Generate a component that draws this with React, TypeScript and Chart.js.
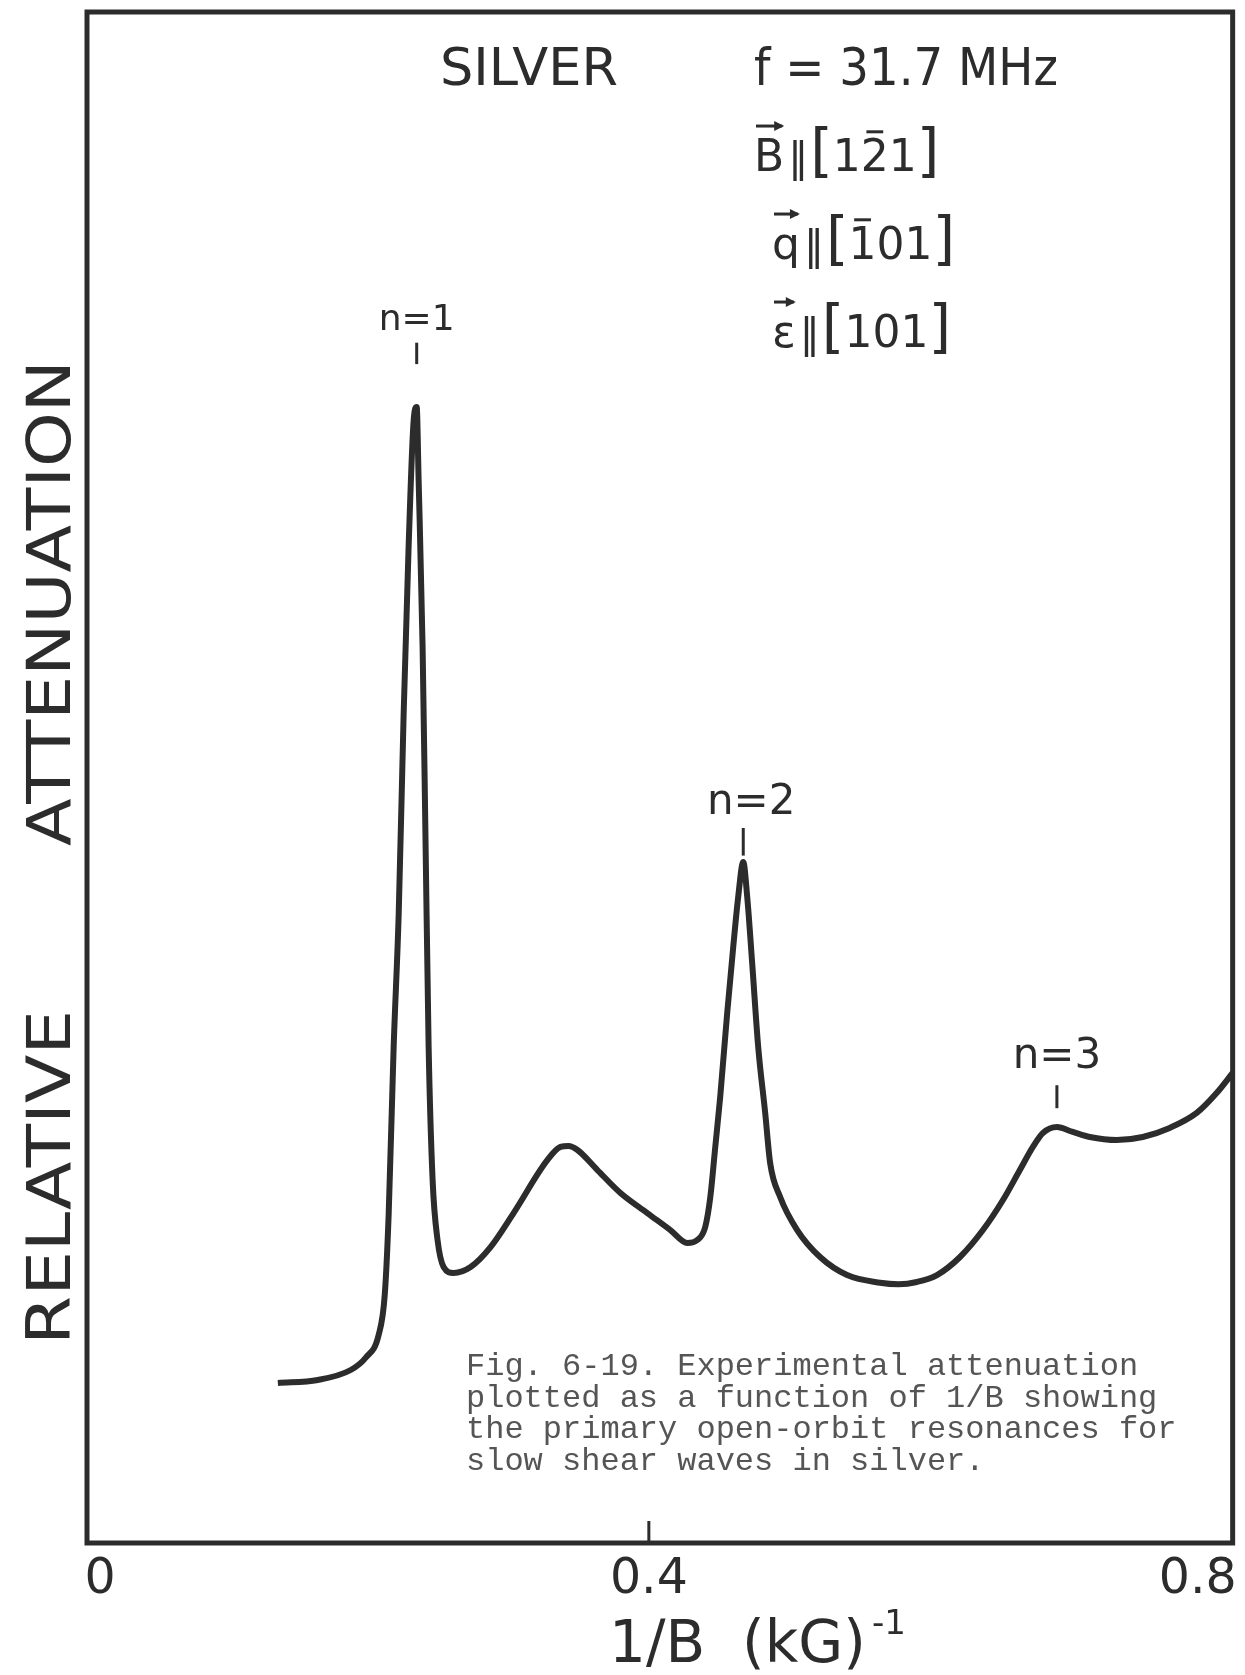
import React, { useEffect, useRef } from "react";
import { Chart, registerables } from "chart.js";

Chart.register(...registerables);

// ---- data ----
const INV_B = [
  0.1296, 0.1587, 0.1827, 0.1936, 0.2031, 0.2075, 0.2104, 0.214, 0.2177, 0.2213, 0.2249,
  0.2286, 0.2308, 0.2322, 0.2351, 0.2373, 0.2395, 0.2424, 0.246, 0.2504, 0.2577,
  0.2701, 0.2846, 0.3014, 0.3261, 0.3356, 0.3414, 0.348, 0.3625, 0.3793, 0.3989,
  0.4157, 0.428, 0.4353, 0.4411, 0.4448, 0.4484, 0.452, 0.4571, 0.4615, 0.4651,
  0.4688, 0.4717, 0.4753, 0.4797, 0.4848, 0.4884, 0.4957, 0.5081, 0.5248, 0.5445,
  0.5685, 0.582, 0.5954, 0.61, 0.6268, 0.6435, 0.6581, 0.6704, 0.6799, 0.6872, 0.6974,
  0.709, 0.7214, 0.741, 0.76, 0.7796, 0.7993, 0.8138, 0.8255,
];
const ATTENUATION = [
  10.45, 10.65, 11.3, 12.1, 13.6, 16.2, 21.55, 32.4, 41.15, 54.21, 65.06,
  73.35, 74.2, 69.43, 58.52, 45.46, 32.4, 23.71, 19.79, 18.03, 17.64,
  18.03, 19.33, 21.55, 25.02, 25.87, 25.93, 25.67, 24.36, 22.86, 21.55,
  20.44, 19.6, 19.79, 20.64, 22.6, 25.87, 29.13, 34.62, 38.93, 42.19,
  44.48, 42.19, 37.88, 32.4, 28.09, 24.82, 22.6, 20.44, 18.68, 17.5,
  17.0, 16.9, 17.05, 17.5, 18.68, 20.44, 22.4, 24.36, 25.87, 26.78, 27.17,
  26.85, 26.52, 26.32, 26.52, 27.11, 28.09, 29.39, 30.7,
];
const X_TICKS = [0, 0.4, 0.8];
const X_TICK_LABELS = ["0", "0.4", "0.8"];
const X_MIN = -0.0095;
const X_MAX = 0.8255;
const Y_MIN = 0;
const Y_MAX = 100;

const PEAK_LABELS = ["n=1", "n=2", "n=3"];
const PEAK_X = [0.2308, 0.4688, 0.6974];
const PEAK_LABEL_Y = [79.2, 47.6, 31.0];
const PEAK_MARK_TOP = [78.4, 46.7, 29.9];
const PEAK_MARK_BOTTOM = [77.0, 44.9, 28.4];

const SAMPLE = "SILVER";
const FREQ = "f = 31.7 MHz";
const Y_TITLE_1 = "RELATIVE";
const Y_TITLE_2 = "ATTENUATION";
const X_TITLE = "1/B  (kG)";
const X_TITLE_SUP = "-1";
const CAPTION = [
  "Fig. 6-19. Experimental attenuation",
  "plotted as a function of 1/B showing",
  "the primary open-orbit resonances for",
  "slow shear waves in silver.",
];

type Seg = { t: string; size?: number; bar?: boolean; arrow?: boolean; gap?: number; dy?: number };

const INK = "#2c2c2c";
const SANS = '"DejaVu Sans"';

function fitText(ctx: CanvasRenderingContext2D, text: string, x: number, y: number, width: number, size: number, rot = 0) {
  ctx.save();
  ctx.font = `${size}px ${SANS}`;
  const w = ctx.measureText(text).width;
  ctx.translate(x, y);
  if (rot) ctx.rotate(rot);
  ctx.scale(width / w, 1);
  ctx.textAlign = "left";
  ctx.textBaseline = "alphabetic";
  ctx.fillText(text, 0, 0);
  ctx.restore();
}

function drawRich(ctx: CanvasRenderingContext2D, x: number, baseline: number, segs: Seg[], size: number) {
  let cx = x;
  ctx.save();
  ctx.textAlign = "left";
  ctx.textBaseline = "alphabetic";
  ctx.strokeStyle = INK;
  ctx.fillStyle = INK;
  for (const s of segs) {
    const fs = s.size ?? size;
    ctx.font = `${fs}px ${SANS}`;
    const w = ctx.measureText(s.t).width;
    const y = baseline + (s.dy ?? 0);
    ctx.fillText(s.t, cx, y);
    if (s.bar) {
      ctx.lineWidth = 3;
      ctx.beginPath();
      const by = y - fs * 0.8 - 4;
      ctx.moveTo(cx + w * 0.2, by);
      ctx.lineTo(cx + w * 0.8, by);
      ctx.stroke();
    }
    if (s.arrow) {
      ctx.lineWidth = 3;
      const ay = y - fs * 0.84 - 8;
      ctx.beginPath();
      ctx.moveTo(cx + 2, ay);
      ctx.lineTo(cx + w - 2, ay);
      ctx.stroke();
      ctx.beginPath();
      ctx.moveTo(cx + w, ay);
      ctx.lineTo(cx + w - 10, ay - 5);
      ctx.lineTo(cx + w - 10, ay + 5);
      ctx.closePath();
      ctx.fill();
    }
    cx += w + (s.gap ?? 0);
  }
  ctx.restore();
}

const framePlugin = {
  id: "frameAndText",
  afterDatasetsDraw(chart: any) {
    const { ctx, chartArea } = chart;
    const xs = chart.scales.x;
    const ys = chart.scales.y;
    ctx.save();
    // frame
    ctx.strokeStyle = INK;
    ctx.lineWidth = 5;
    ctx.strokeRect(chartArea.left, chartArea.top, chartArea.right - chartArea.left, chartArea.bottom - chartArea.top);
    // inward tick marks (interior ticks only)
    ctx.lineWidth = 3;
    xs.ticks.forEach((t: any, i: number) => {
      if (i === 0 || i === xs.ticks.length - 1) return;
      const px = xs.getPixelForValue(t.value);
      ctx.beginPath();
      ctx.moveTo(px, chartArea.bottom);
      ctx.lineTo(px, chartArea.bottom - 22);
      ctx.stroke();
    });
    // peak labels and marks
    ctx.fillStyle = INK;
    ctx.textAlign = "center";
    ctx.textBaseline = "alphabetic";
    PEAK_LABELS.forEach((lab, i) => {
      const px = xs.getPixelForValue(PEAK_X[i]);
      const size = i === 0 ? 36 : 42;
      ctx.font = `${size}px ${SANS}`;
      ctx.fillText(lab, px + (i === 1 ? 8 : 0), ys.getPixelForValue(PEAK_LABEL_Y[i]));
      ctx.lineWidth = 3;
      ctx.beginPath();
      ctx.moveTo(px, ys.getPixelForValue(PEAK_MARK_TOP[i]));
      ctx.lineTo(px, ys.getPixelForValue(PEAK_MARK_BOTTOM[i]));
      ctx.stroke();
    });

    // header text
    fitText(ctx, SAMPLE, 440, 85, 178, 51);
    fitText(ctx, FREQ, 754, 85, 304, 51);
    drawRich(ctx, 754, 171, [
      { t: "B", arrow: true, gap: 4 },
      { t: "\u2016", size: 40, gap: 2 },
      { t: "[", size: 58 },
      { t: "1" },
      { t: "2", bar: true },
      { t: "1" },
      { t: "]", size: 58 },
    ], 44);
    drawRich(ctx, 772, 259, [
      { t: "q", arrow: true, gap: 4 },
      { t: "\u2016", size: 40, gap: 2 },
      { t: "[", size: 58 },
      { t: "1", bar: true },
      { t: "0" },
      { t: "1" },
      { t: "]", size: 58 },
    ], 44);
    drawRich(ctx, 772, 347, [
      { t: "\u03b5", arrow: true, gap: 4 },
      { t: "\u2016", size: 40, gap: 2 },
      { t: "[", size: 58 },
      { t: "1" },
      { t: "0" },
      { t: "1" },
      { t: "]", size: 58 },
    ], 44);

    // y title (rotated)
    ctx.fillStyle = INK;
    fitText(ctx, Y_TITLE_1, 70, 1345, 335, 60, -Math.PI / 2);
    fitText(ctx, Y_TITLE_2, 70, 846, 486, 60, -Math.PI / 2);

    // x title
    ctx.font = `58px ${SANS}`;
    ctx.textAlign = "left";
    ctx.fillText(X_TITLE, 609, 1662);
    const tw = ctx.measureText(X_TITLE).width;
    ctx.font = `34px ${SANS}`;
    ctx.fillText(X_TITLE_SUP, 609 + tw + 6, 1634);

    // caption
    ctx.fillStyle = "#555555";
    ctx.font = `32px "Liberation Mono"`;
    CAPTION.forEach((line, i) => {
      ctx.fillText(line, 466, 1375 + i * 31.5);
    });
    ctx.restore();
  },
};

export default function App() {
  const ref = useRef<HTMLCanvasElement | null>(null);
  useEffect(() => {
    if (!ref.current) return;
    const chart = new Chart(ref.current, {
      type: "line",
      data: {
        datasets: [
          {
            data: INV_B.map((x, i) => ({ x, y: ATTENUATION[i] })),
            borderColor: INK,
            borderWidth: 6,
            pointRadius: 0,
            cubicInterpolationMode: "monotone",
            fill: false,
          },
        ],
      },
      options: {
        responsive: false,
        animation: false,
        devicePixelRatio: 1,
        layout: { padding: { left: 87, right: 12, top: 12, bottom: 0 } },
        plugins: { legend: { display: false }, tooltip: { enabled: false } },
        scales: {
          x: {
            type: "linear",
            min: X_MIN,
            max: X_MAX,
            grid: { display: false, drawTicks: false },
            border: { display: false },
            afterBuildTicks: (s: any) => {
              s.ticks = X_TICKS.map((v) => ({ value: v }));
            },
            afterFit: (s: any) => {
              s.height = 132;
            },
            ticks: {
              autoSkip: false,
              maxRotation: 0,
              padding: 8,
              color: INK,
              font: { family: "DejaVu Sans", size: 49 },
              callback: (_v: any, i: number) => X_TICK_LABELS[i],
            },
          },
          y: { type: "linear", display: false, min: Y_MIN, max: Y_MAX },
        },
      } as any,
      plugins: [framePlugin],
    });
    return () => chart.destroy();
  }, []);
  return (
    <div style={{ position: "fixed", left: 0, top: 0, width: 1245, height: 1675, background: "#fff" }}>
      <canvas ref={ref} width={1245} height={1675} style={{ width: 1245, height: 1675, display: "block" }} />
    </div>
  );
}
